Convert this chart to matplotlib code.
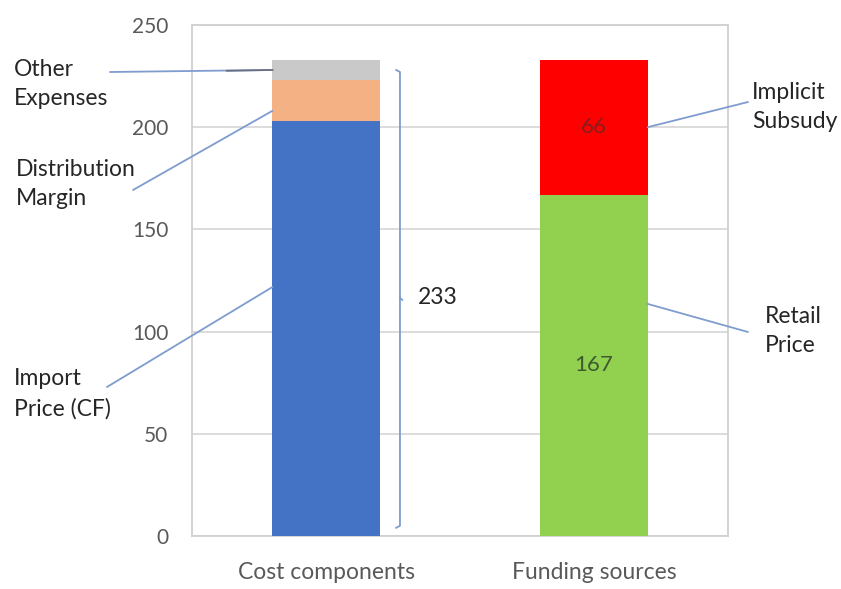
import matplotlib
matplotlib.use("Agg")
import matplotlib.pyplot as plt

plt.rcParams['font.family'] = ['Lato', 'DejaVu Sans']

# Datos
categories = ["Cost components", "Funding sources"]
import_price = 203
distribution_margin = 20
other_expenses = 10
retail_price = 167
implicit_subsidy = 66
total_cost = import_price + distribution_margin + other_expenses

W, H = 841, 589
fig = plt.figure(figsize=(W / 100, H / 100), dpi=100)
ax = fig.add_axes([192 / W, 53 / H, 536 / W, 511 / H])


def px(x, y):
    # pixel (desde arriba a la izquierda) -> fracción de figura
    return (x / W, 1 - y / H)


bw = 0.4
xc, xf = 0, 1

# Barras apiladas
ax.bar(xc, import_price, bw, color="#4472C4", zorder=3)
ax.bar(xc, distribution_margin, bw, bottom=import_price, color="#F4B183", zorder=3)
ax.bar(xc, other_expenses, bw, bottom=import_price + distribution_margin,
       color="#C9C9C9", zorder=3)
ax.bar(xf, retail_price, bw, color="#92D050", zorder=3)
ax.bar(xf, implicit_subsidy, bw, bottom=retail_price, color="#FF0000", zorder=3)

# Etiquetas de valor dentro de las barras
ax.text(xf, retail_price + implicit_subsidy / 2, str(implicit_subsidy),
        ha="center", va="center", fontsize=16, color="#8a1c1c", zorder=4)
ax.text(xf, retail_price / 2, str(retail_price),
        ha="center", va="center", fontsize=16, color="#3d5a32", zorder=4)

# Ejes
ax.set_xlim(-0.5, 1.5)
ax.set_ylim(0, 250)
ax.set_yticks([0, 50, 100, 150, 200, 250])
ax.set_xticks([xc, xf])
ax.set_xticklabels(categories)
ax.tick_params(axis="y", length=0, pad=17, labelsize=15, labelcolor="#595959")
ax.tick_params(axis="x", length=0, pad=19, labelsize=16.5, labelcolor="#595959")
ax.grid(axis="y", color="#d9d9d9", lw=1.3, zorder=0)
for s in ax.spines.values():
    s.set_color("#d0d0d0")
    s.set_linewidth(1.3)

# Llave que indica el total
line_c = "#7f9ccf"
bx = 0.276
hk = 0.014
top, bot = total_cost - 6, 5
ax.plot([bx - hk, bx, bx, bx - hk], [top + 1, top, bot, bot - 1],
        color=line_c, lw=1.3, zorder=4, clip_on=False)
ax.plot([bx, bx + hk * 0.6], [total_cost / 2, total_cost / 2 - 1],
        color=line_c, lw=1.3, zorder=4)
ax.text(bx + 0.065, total_cost / 2, str(total_cost), ha="left", va="center",
        fontsize=16.5, color="#262626")

# Líneas guía y textos de las componentes
lab_c = "#262626"
left = xc - bw / 2
right = xf + bw / 2
callouts = [
    ("Other\nExpenses", (left, import_price + distribution_margin + other_expenses * 0.5),
     (110, 72), (14, 84)),
    ("Distribution\nMargin", (left, import_price + distribution_margin * 0.25),
     (133, 190), (16, 184)),
    ("Import\nPrice (CF)", (left, import_price * 0.6),
     (107, 387), (14, 394)),
    ("Implicit\nSubsudy", (right, retail_price + implicit_subsidy * 0.5),
     (748, 102), (752, 107)),
    ("Retail\nPrice", (right, retail_price * 0.68),
     (748, 332), (765, 331)),
]
for txt, xy, end, tpos in callouts:
    ax.annotate("", xy=xy, xycoords="data", xytext=px(*end),
                textcoords="figure fraction",
                arrowprops=dict(arrowstyle="-", color=line_c, lw=1.3,
                                shrinkA=0, shrinkB=0),
                annotation_clip=False, zorder=5)
    fig.text(*px(*tpos), txt, ha="left", va="center", fontsize=16.5,
             color=lab_c, linespacing=1.5)

# tramo más oscuro de la guía de "Other Expenses" junto a la barra
oy = import_price + distribution_margin + other_expenses * 0.5
ax.plot([left - 0.17, left], [oy - 0.4, oy], color="#6a7080", lw=1.3,
        zorder=5, clip_on=False)

fig.savefig("out.png", dpi=100, facecolor="white")
